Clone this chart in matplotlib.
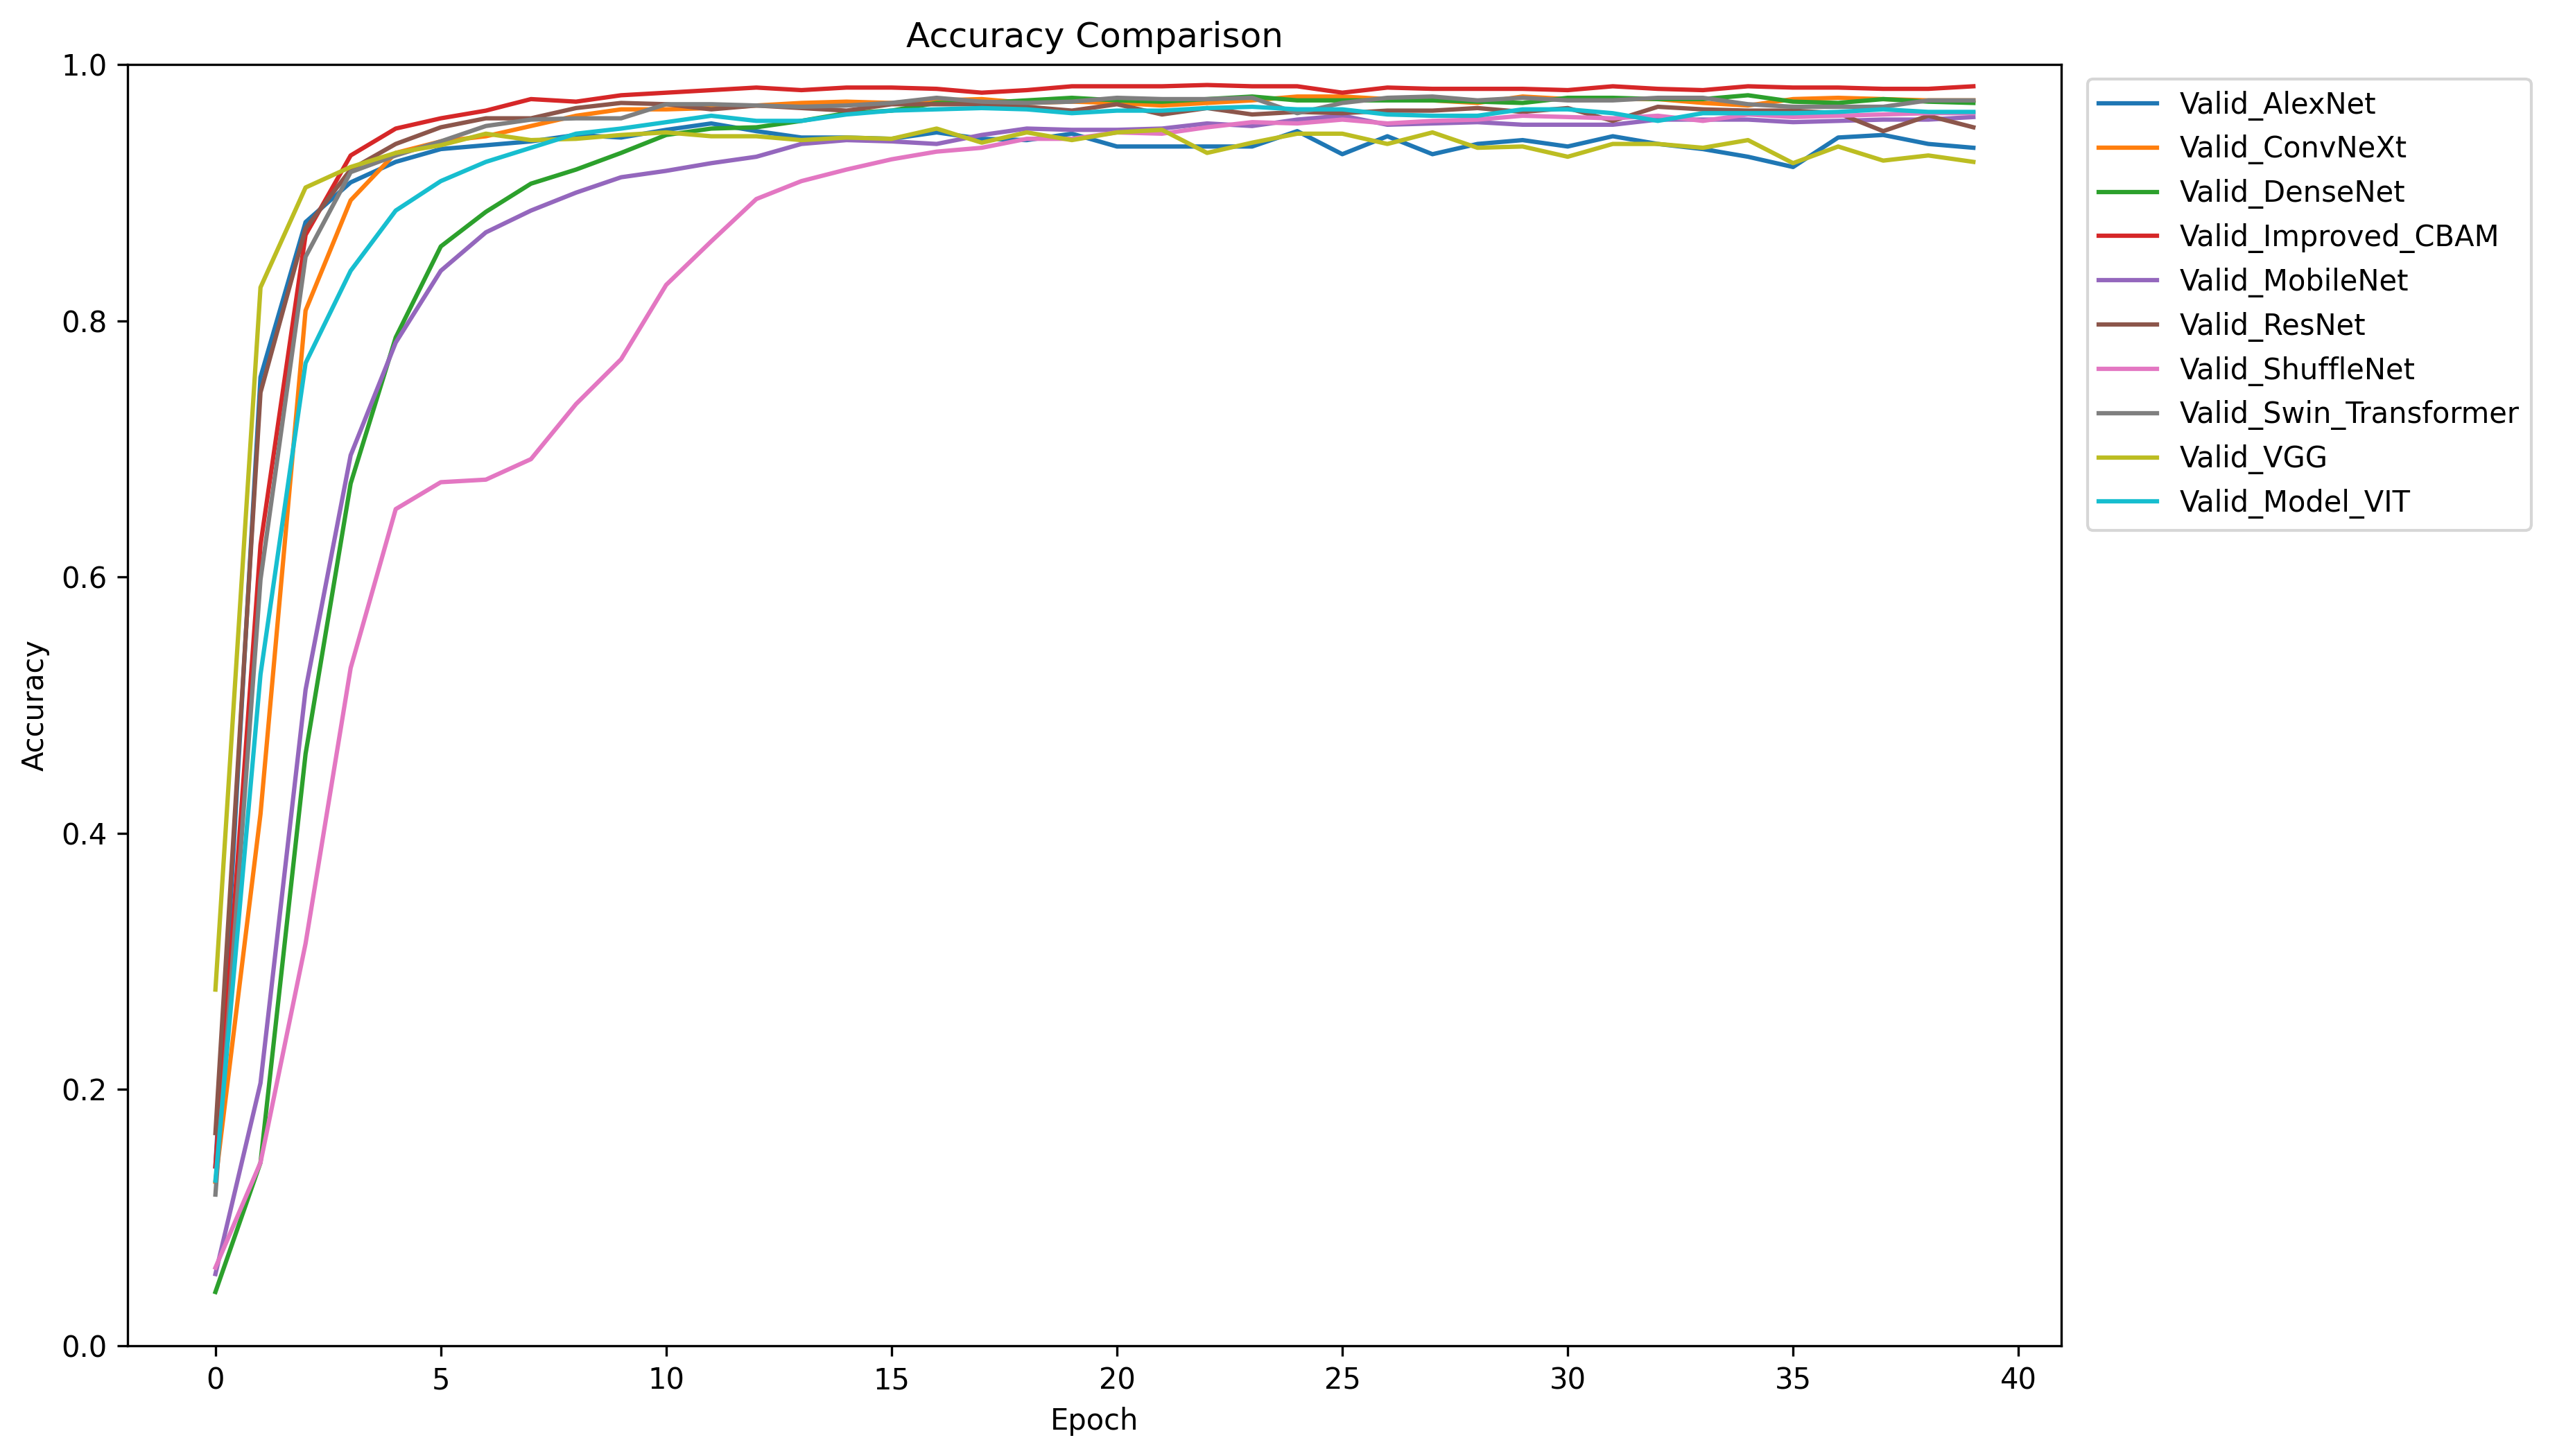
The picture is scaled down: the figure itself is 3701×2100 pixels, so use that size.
import numpy as np
import matplotlib
matplotlib.use("Agg")
import matplotlib.pyplot as plt

# Validation accuracy per epoch
epochs = np.arange(40)

alexnet = [0.140, 0.756, 0.877, 0.908, 0.924, 0.934, 0.937, 0.940, 0.945, 0.943,
           0.949, 0.954, 0.948, 0.943, 0.943, 0.942, 0.947, 0.942, 0.941, 0.946,
           0.936, 0.936, 0.936, 0.936, 0.948, 0.930, 0.944, 0.930, 0.938, 0.941,
           0.936, 0.944, 0.938, 0.934, 0.928, 0.920, 0.943, 0.945, 0.938, 0.935]
convnext = [0.128, 0.415, 0.808, 0.894, 0.931, 0.940, 0.944, 0.952, 0.960, 0.965,
            0.965, 0.966, 0.968, 0.970, 0.971, 0.970, 0.972, 0.973, 0.970, 0.971,
            0.970, 0.968, 0.970, 0.972, 0.975, 0.975, 0.973, 0.972, 0.970, 0.975,
            0.973, 0.973, 0.973, 0.970, 0.968, 0.973, 0.974, 0.973, 0.972, 0.972]
densenet = [0.042, 0.143, 0.462, 0.673, 0.787, 0.858, 0.885, 0.907, 0.918, 0.931,
            0.945, 0.950, 0.951, 0.956, 0.962, 0.964, 0.970, 0.970, 0.972, 0.974,
            0.972, 0.971, 0.973, 0.975, 0.972, 0.972, 0.972, 0.972, 0.971, 0.970,
            0.974, 0.974, 0.973, 0.973, 0.976, 0.971, 0.970, 0.973, 0.971, 0.970]
improved_cbam = [0.140, 0.625, 0.867, 0.929, 0.950, 0.958, 0.964, 0.973, 0.971, 0.976,
                 0.978, 0.980, 0.982, 0.980, 0.982, 0.982, 0.981, 0.978, 0.980, 0.983,
                 0.983, 0.983, 0.984, 0.983, 0.983, 0.978, 0.982, 0.981, 0.981, 0.981,
                 0.980, 0.983, 0.981, 0.980, 0.983, 0.982, 0.982, 0.981, 0.981, 0.983]
mobilenet = [0.056, 0.205, 0.512, 0.695, 0.783, 0.839, 0.869, 0.886, 0.900, 0.912,
             0.917, 0.923, 0.928, 0.938, 0.941, 0.940, 0.938, 0.945, 0.950, 0.949,
             0.949, 0.950, 0.954, 0.952, 0.957, 0.960, 0.953, 0.954, 0.955, 0.953,
             0.953, 0.953, 0.957, 0.957, 0.957, 0.955, 0.956, 0.957, 0.957, 0.959]
resnet = [0.166, 0.744, 0.872, 0.918, 0.938, 0.951, 0.958, 0.958, 0.966, 0.970,
          0.969, 0.965, 0.968, 0.966, 0.964, 0.969, 0.969, 0.969, 0.967, 0.964,
          0.969, 0.961, 0.966, 0.961, 0.963, 0.962, 0.964, 0.964, 0.966, 0.963,
          0.966, 0.956, 0.967, 0.965, 0.964, 0.964, 0.962, 0.948, 0.960, 0.951]
shufflenet = [0.061, 0.143, 0.314, 0.529, 0.653, 0.674, 0.676, 0.692, 0.735, 0.770,
              0.828, 0.862, 0.895, 0.909, 0.918, 0.926, 0.932, 0.935, 0.942, 0.942,
              0.947, 0.946, 0.951, 0.955, 0.954, 0.957, 0.954, 0.956, 0.957, 0.960,
              0.959, 0.958, 0.960, 0.956, 0.961, 0.959, 0.960, 0.961, 0.962, 0.962]
swin = [0.118, 0.598, 0.850, 0.916, 0.929, 0.940, 0.952, 0.957, 0.958, 0.958,
        0.969, 0.969, 0.968, 0.967, 0.968, 0.970, 0.974, 0.971, 0.970, 0.971,
        0.974, 0.973, 0.973, 0.974, 0.962, 0.970, 0.974, 0.975, 0.972, 0.974,
        0.972, 0.972, 0.974, 0.974, 0.969, 0.967, 0.967, 0.967, 0.972, 0.972]
vgg = [0.278, 0.826, 0.904, 0.920, 0.931, 0.937, 0.946, 0.941, 0.942, 0.945,
       0.947, 0.944, 0.944, 0.941, 0.943, 0.942, 0.950, 0.939, 0.947, 0.941,
       0.947, 0.949, 0.931, 0.939, 0.946, 0.946, 0.938, 0.947, 0.935, 0.936,
       0.928, 0.938, 0.938, 0.935, 0.941, 0.923, 0.936, 0.925, 0.929, 0.924]
vit = [0.129, 0.524, 0.767, 0.839, 0.886, 0.909, 0.924, 0.935, 0.946, 0.950,
       0.955, 0.960, 0.956, 0.956, 0.961, 0.964, 0.965, 0.966, 0.965, 0.962,
       0.964, 0.964, 0.966, 0.967, 0.965, 0.965, 0.961, 0.960, 0.960, 0.965,
       0.965, 0.962, 0.956, 0.962, 0.962, 0.962, 0.963, 0.965, 0.963, 0.963]

names = ["Valid_AlexNet", "Valid_ConvNeXt", "Valid_DenseNet", "Valid_Improved_CBAM",
         "Valid_MobileNet", "Valid_ResNet", "Valid_ShuffleNet", "Valid_Swin_Transformer",
         "Valid_VGG", "Valid_Model_VIT"]
series = [alexnet, convnext, densenet, improved_cbam, mobilenet,
          resnet, shufflenet, swin, vgg, vit]

fig = plt.figure(figsize=(3701 / 300, 7), dpi=300)
ax = fig.add_axes([0.0497, 0.0757, 0.7536, 0.880])

for name, acc in zip(names, series):
    ax.plot(epochs, acc, label=name)

ax.set_ylim(0, 1)
ax.set_title("Accuracy Comparison")
ax.set_xlabel("Epoch")
ax.set_ylabel("Accuracy")
ax.legend(loc="upper left", bbox_to_anchor=(1.006, 1))

fig.savefig("out.png", dpi=300)
